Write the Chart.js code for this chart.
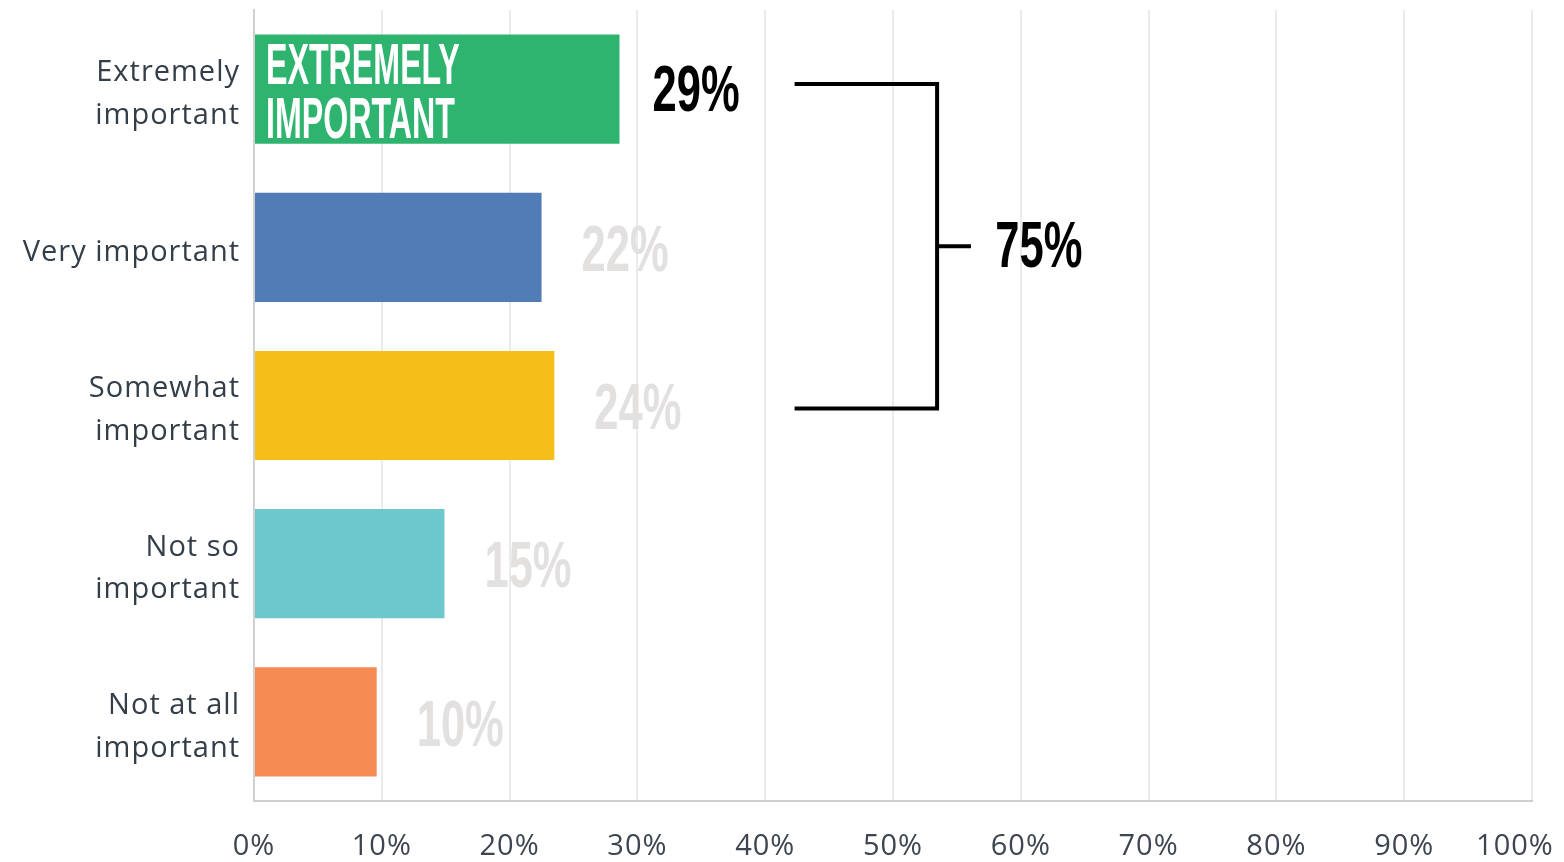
<!DOCTYPE html>
<html>
<head>
<meta charset="utf-8">
<script src="https://cdn.jsdelivr.net/npm/chart.js@4.4.1/dist/chart.umd.min.js"></script>
<style>
  html, body { margin: 0; padding: 0; background: #fff; }
  canvas { display: block; }
</style>
</head>
<body>
<canvas id="chart" width="1564" height="862"></canvas>
<script>
// データ
const categories = [
    ['Extremely', 'important'],
    'Very important',
    ['Somewhat', 'important'],
    ['Not so', 'important'],
    ['Not at all', 'important']
];
const values = [28.6, 22.5, 23.5, 14.9, 9.6];
const valueLabels = ['29%', '22%', '24%', '15%', '10%'];
const barColors = ['#2eb46f', '#517cb5', '#f6be18', '#6cc8cb', '#f68b53'];
const xTickLabels = ['0%', '10%', '20%', '30%', '40%', '50%', '60%', '70%', '80%', '90%', '100%'];
const highlightText = ['EXTREMELY', 'IMPORTANT'];
const totalLabel = '75%';

// 細長い太字で描く
const drawCondensed = (ctx, text, x, y, size, squeeze, color) => {
    ctx.save();
    ctx.letterSpacing = '0px';
    ctx.font = `bold ${size}px "Liberation Sans"`;
    ctx.fillStyle = color;
    ctx.textAlign = 'left';
    ctx.textBaseline = 'middle';
    ctx.translate(x, y);
    ctx.scale(squeeze, 1);
    ctx.fillText(text, 0, 0);
    ctx.restore();
};

const labelPlugin = {
    id: 'labels',
    beforeDraw(chart) {
        chart.ctx.letterSpacing = '1px'; // 軸ラベルの字間
    },
    beforeDatasetsDraw(chart) {
        chart.ctx.letterSpacing = '0px';
    },
    afterDatasetsDraw(chart) {
        const ctx = chart.ctx;
        const xs = chart.scales.x;
        const bars = chart.getDatasetMeta(0).data;

        bars.forEach((bar, i) => {
            const color = i === 0 ? '#000000' : '#e3e0e0';
            const dx = i === 0 ? 33 : 40;
            const dy = i === 0 ? 4 : 6;
            drawCondensed(ctx, valueLabels[i], bar.x + dx, bar.y + dy, 64, 0.68, color);
        });

        // 棒の中の文字
        const first = bars[0];
        drawCondensed(ctx, highlightText[0], first.base + 11, first.y - 21, 58, 0.555, '#ffffff');
        drawCondensed(ctx, highlightText[1], first.base + 11, first.y + 33, 58, 0.555, '#ffffff');

        // かっこ
        const xl = xs.getPixelForValue(42.3);
        const xr = xs.getPixelForValue(53.45);
        const xt = xs.getPixelForValue(56.1);
        const yTop = bars[0].y - 5;
        const yMid = bars[1].y - 1;
        const yBot = bars[2].y + 3;
        ctx.save();
        ctx.strokeStyle = '#000';
        ctx.lineWidth = 4;
        ctx.beginPath();
        ctx.moveTo(xl, yTop);
        ctx.lineTo(xr, yTop);
        ctx.lineTo(xr, yBot);
        ctx.lineTo(xl, yBot);
        ctx.moveTo(xr, yMid);
        ctx.lineTo(xt, yMid);
        ctx.stroke();
        ctx.restore();
        drawCondensed(ctx, totalLabel, xs.getPixelForValue(58.0), yMid + 3, 64, 0.68, '#000000');
    }
};

new Chart(document.getElementById('chart').getContext('2d'), {
    type: 'bar',
    data: {
        labels: categories,
        datasets: [{
            data: values,
            backgroundColor: barColors,
            borderWidth: 0,
            barPercentage: 0.69,
            categoryPercentage: 1
        }]
    },
    options: {
        indexAxis: 'y',
        responsive: false,
        devicePixelRatio: 1,
        animation: false,
        layout: { padding: { top: 10, right: 32, left: 0, bottom: 0 } },
        plugins: {
            legend: { display: false },
            tooltip: { enabled: false }
        },
        scales: {
            x: {
                min: 0,
                max: 100,
                ticks: {
                    stepSize: 10,
                    color: '#3c4550',
                    padding: 28,
                    font: { family: 'Open Sans', size: 29 },
                    // 最後のラベルは右端に収まるよう少し左へ
                    callback: (v, i) => i === xTickLabels.length - 1 ? xTickLabels[i] + '    ' : xTickLabels[i]
                },
                grid: { color: '#ebebeb', lineWidth: 2, drawTicks: false },
                border: { color: '#cfcfcf', width: 2 },
                afterFit: (s) => { s.height = 61; s.paddingLeft = 0; s.paddingRight = 0; }
            },
            y: {
                ticks: {
                    color: '#333e48',
                    padding: 14,
                    labelOffset: 5,
                    font: { family: 'Open Sans', size: 29, lineHeight: 1.48 }
                },
                grid: { display: false, drawTicks: false },
                border: { color: '#d0d0d0', width: 2 },
                afterFit: (s) => { s.width = 254; s.paddingTop = 0; s.paddingBottom = 0; }
            }
        }
    },
    plugins: [labelPlugin]
});
</script>
</body>
</html>
